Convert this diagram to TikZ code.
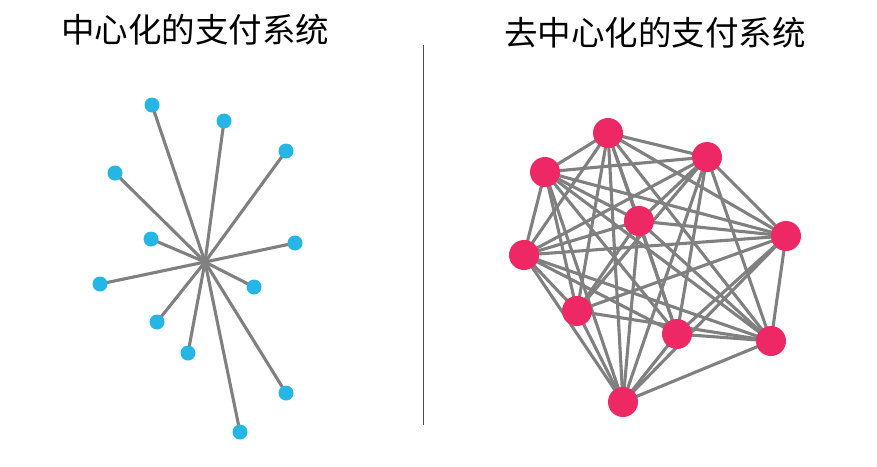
\documentclass[tikz,border=0pt]{standalone}
\usepackage{fontspec}
\newfontfamily\cjk{Noto Sans CJK SC}
\usetikzlibrary{calc, backgrounds}
\definecolor{hubblue}{RGB}{38,182,230}
\definecolor{peerpink}{RGB}{238,40,100}
\definecolor{linkgray}{RGB}{128,128,128}

\begin{document}
\begin{tikzpicture}[x=1pt,y=-1pt,
    bluedot/.style={circle,fill=hubblue,minimum size=15pt,inner sep=0pt},
    pinkdot/.style={circle,fill=peerpink,minimum size=30pt,inner sep=0pt},
    link/.style={draw=linkgray,line width=3.1pt},
    title/.style={font=\cjk\fontsize{33.5}{40}\selectfont}]
  \useasboundingbox (0,0) rectangle (877,466);
  \node[title] (lefttitle) at (195,30) {中心化的支付系统};
  \node[title] (righttitle) at (655,33) {去中心化的支付系统};
  \draw[black!70, line width=0.8pt] (423,45) -- (423,425);
  % centralised: one hub, all clients tied to it
  \coordinate (hub) at (205,262);
  \foreach \x/\y [count=\i] in {152/105, 224/121, 286/151, 115/173, 151/239, 295/243,
      100/284, 254/287, 157/322, 188/353, 286/393, 240/432} {
      \node[bluedot] (c\i) at (\x,\y) {};
      \begin{scope}[on background layer]
        \draw[link] (hub) -- (c\i.center);
      \end{scope}
  }
  % decentralised: the peers are tied to one another (p7--p8 is not)
  \foreach \x/\y [count=\i] in {608/133, 707/157, 545/172, 639/221, 786/236,
      524/255, 577/311, 677/334, 771/341, 623/402} {
      \node[pinkdot] (p\i) at (\x,\y) {};
  }
  \begin{scope}[on background layer]
    \foreach \i in {1,...,9} {
        \pgfmathtruncatemacro\nxt{\i+1}
        \foreach \j in {\nxt,...,10} {
            \pgfmathtruncatemacro\nolink{and(\i==7,\j==8)}
            \ifnum\nolink=0
              \draw[link] (p\i.center) -- (p\j.center);
            \fi
        }
    }
  \end{scope}
\end{tikzpicture}
\end{document}
